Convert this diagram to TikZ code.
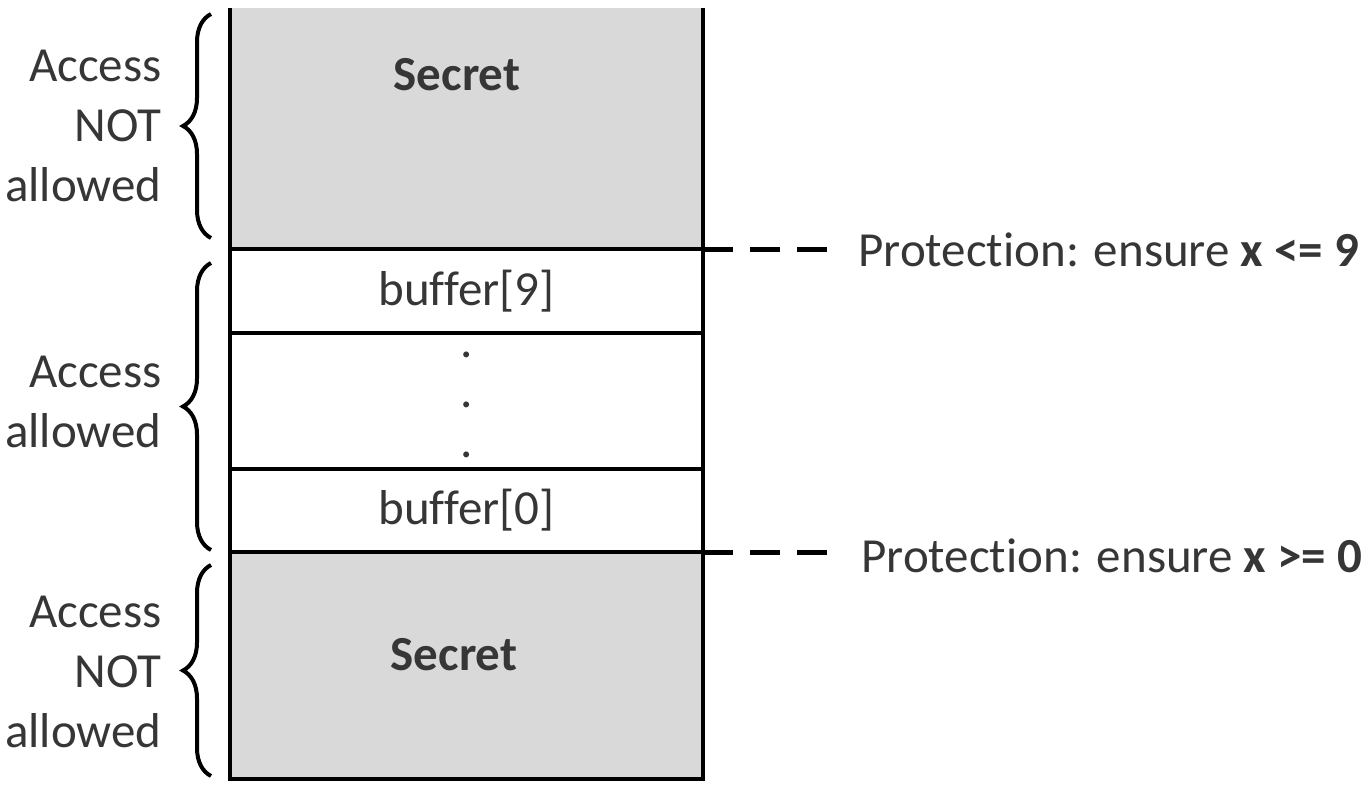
\documentclass[tikz,border=0pt]{standalone}
\usepackage{fontspec}
\setmainfont{Carlito}[RawFeature=-liga,RawFeature=-clig,RawFeature=-calt]
\usetikzlibrary{decorations.pathreplacing}
\definecolor{txtgray}{HTML}{363636}
\definecolor{cellgray}{HTML}{D9D9D9}

\begin{document}
\begin{tikzpicture}[x=0.5pt,y=-0.5pt]
  \tikzstyle{every node}=[font=\fontsize{24.5pt}{30pt}\selectfont,text=txtgray,inner sep=0pt]
  \tikzstyle{cell}=[minimum width=236.5pt]
  \tikzstyle{secret}=[cell,fill=cellgray]
  \tikzstyle{wall}=[line width=2pt,black]
  \tikzstyle{guard}=[line width=2.2pt,dash pattern=on 15pt off 8.5pt]
  \tikzstyle{grp}=[decorate,decoration={brace,amplitude=14pt},line width=2pt]
  \useasboundingbox (0,0) rectangle (1368,801);
  % memory column
  \node[secret,minimum height=120.5pt] (sectop) at (466.5,128.5) {};
  \node[cell,minimum height=42pt] (buf9) at (466.5,291) {buffer[9]};
  \node[cell,minimum height=68pt,align=center,font=\fontsize{24.5pt}{25pt}\selectfont] (gap) at (466.5,405) {.\\.\\.};
  \node[cell,minimum height=41.5pt] (buf0) at (466.5,510.5) {buffer[0]};
  \node[secret,minimum height=113.5pt] (secbot) at (466.5,665.5) {};
  \node (sectoplbl) at (457,75) {\textbf{Secret}};
  \node (secbotlbl) at (454,655) {\textbf{Secret}};
  \draw[wall] (sectop.north west) -- (secbot.south west) -- (secbot.south east) -- (sectop.north east);
  \draw[wall] (sectop.south west) -- (sectop.south east);
  \draw[wall] (buf9.south west) -- (buf9.south east);
  \draw[wall] (buf0.north west) -- (buf0.north east);
  \draw[wall] (buf0.south west) -- (buf0.south east);
  % bounds checks
  \node[anchor=base west] (max) at (858,267) {Protection: ensure \textbf{x <= 9}};
  \node[anchor=base west] (min) at (861,572) {Protection: ensure \textbf{x >= 0}};
  \draw[guard,shorten >=12.5pt] (sectop.south east) -- (sectop.south east -| max.west);
  \draw[guard,shorten >=14pt] (buf0.south east) -- (buf0.south east -| min.west);
  % access regions
  \draw[grp] (211,238) -- (211,14);
  \draw[grp] (211,550) -- (211,263);
  \draw[grp] (211,776) -- (211,565);
  \node[anchor=east,align=right] (deny1) at (162,126) {Access\\NOT\\allowed};
  \node[anchor=east,align=right] (allow) at (162,402) {Access\\allowed};
  \node[anchor=east,align=right] (deny2) at (162,672) {Access\\NOT\\allowed};
\end{tikzpicture}
\end{document}
